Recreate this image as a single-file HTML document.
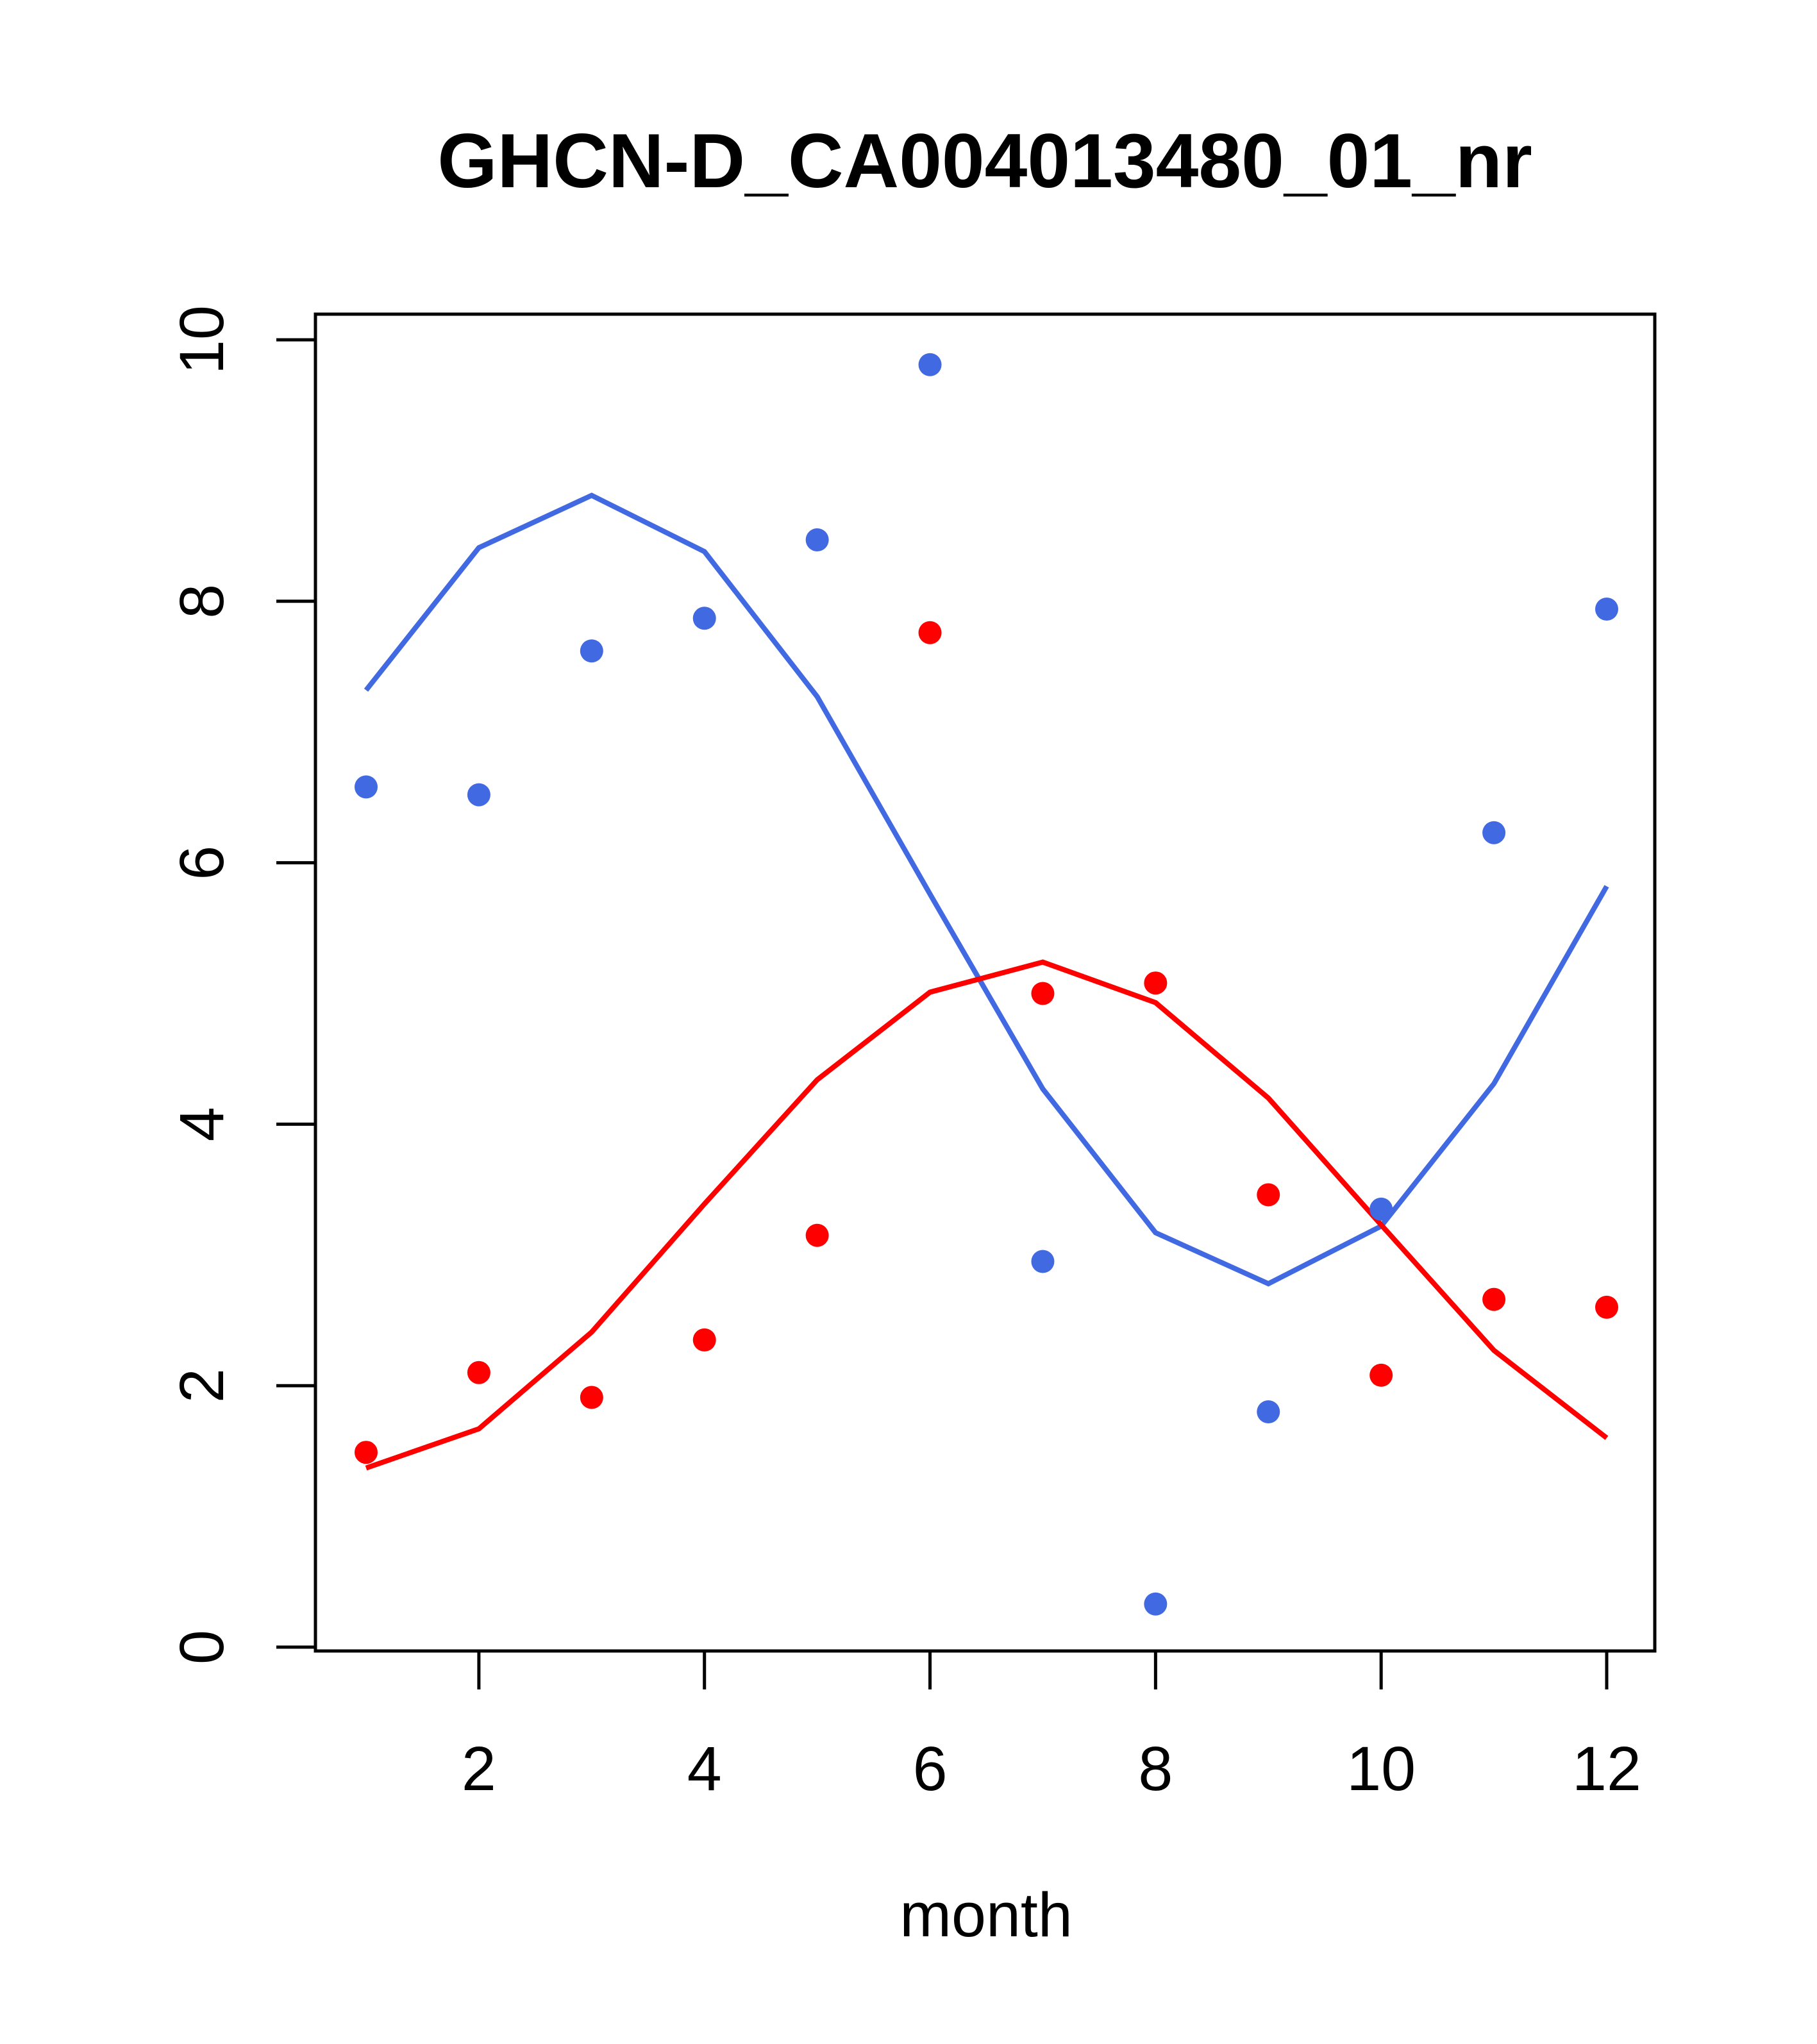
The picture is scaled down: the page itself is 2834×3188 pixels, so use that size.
<!DOCTYPE html>
<html><head><meta charset="utf-8"><style>
html,body{margin:0;padding:0;background:#fff;}
svg{display:block;font-family:"Liberation Sans",Arial,sans-serif;}
</style></head><body>
<svg id="chart" width="2834" height="3188" viewBox="0 0 2834 3188" xmlns="http://www.w3.org/2000/svg">
<rect width="2834" height="3188" fill="#fff"/>
<text x="1536" y="292" font-size="120" font-weight="bold" text-anchor="middle">GHCN-D_CA004013480_01_nr</text>
<rect x="492" y="490" width="2089" height="2085" fill="none" stroke="#000" stroke-width="5"/>
<text x="1538" y="3020" font-size="97" text-anchor="middle">month</text>
<g id="axes"></g>
<g id="marks"></g>
</svg>
<script>
const months = [1,2,3,4,5,6,7,8,9,10,11,12];
const bluePoints = [6.58,6.52,7.62,7.87,8.47,9.81,2.95,0.33,1.80,3.35,6.23,7.94];
const blueLine = [7.32,8.41,8.81,8.38,7.27,5.76,4.27,3.17,2.78,3.22,4.31,5.82];
const redPoints = [1.49,2.10,1.91,2.35,3.15,7.76,5.00,5.08,3.46,2.08,2.66,2.60];
const redLine = [1.37,1.67,2.41,3.39,4.34,5.01,5.24,4.93,4.20,3.23,2.27,1.60];
const xTicks = [2,4,6,8,10,12];
const yTicks = [0,2,4,6,8,10];

const NS = "http://www.w3.org/2000/svg";
function xs(v){ return 571 + (v-1)*(2506-571)/11; }
function ys(v){ return 2569 - v*(2569-530)/10; }
function mk(tag, attrs, parent){
  const e = document.createElementNS(NS, tag);
  for (const k in attrs) e.setAttribute(k, attrs[k]);
  parent.appendChild(e);
  return e;
}
const axes = document.getElementById('axes');
const marks = document.getElementById('marks');

const xl = mk('line',{x1:xs(2),x2:xs(12),y1:2575,y2:2575,stroke:'#000','stroke-width':5},axes);


xTicks.forEach(t=>{
  const tk = mk('line',{x1:xs(t),x2:xs(t),y1:2575,y2:2635,stroke:'#000','stroke-width':5},axes);
  
  
  const lb = mk('text',{x:xs(t),y:2792,'font-size':97,'text-anchor':'middle'},axes);
  lb.textContent = t;
  
  
});
const yl = mk('line',{x1:492,x2:492,y1:ys(0),y2:ys(10),stroke:'#000','stroke-width':5},axes);


yTicks.forEach(t=>{
  const tk = mk('line',{x1:431,x2:492,y1:ys(t),y2:ys(t),stroke:'#000','stroke-width':5},axes);
  
  
  const lb = mk('text',{x:0,y:0,'font-size':97,'text-anchor':'middle',transform:`translate(348,${ys(t)}) rotate(-90)`},axes);
  lb.textContent = t;
  
  
});

function line(vals, color, name){
  const p = mk('polyline',{points:vals.map((v,i)=>xs(months[i])+','+ys(v)).join(' '),fill:'none',stroke:color,'stroke-width':8},marks);
  
  
}
function pts(vals, color, name){
  vals.forEach((v,i)=>{
    const c = mk('circle',{cx:xs(months[i]),cy:ys(v),r:18,fill:color},marks);
    
    
  });
}
line(blueLine,'#4169E1','blue-line');
line(redLine,'#FF0000','red-line');
pts(bluePoints,'#4169E1','blue-point');
pts(redPoints,'#FF0000','red-point');
</script>
</body></html>
